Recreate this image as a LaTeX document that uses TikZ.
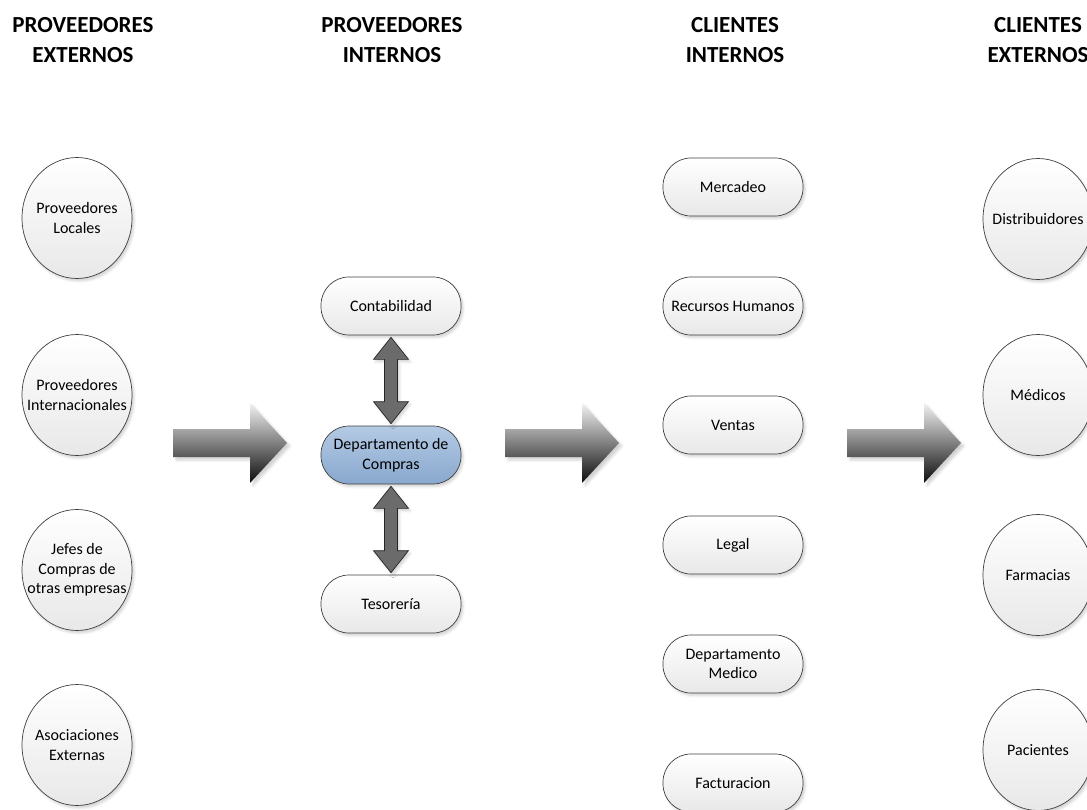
\documentclass[tikz,border=0pt]{standalone}
\usepackage{fontspec}
\setmainfont{Carlito}
\usetikzlibrary{shapes.geometric,shadows.blur,calc}

\definecolor{bluetop}{RGB}{180,202,228}
\definecolor{bluebot}{RGB}{136,168,206}

\begin{document}
\begin{tikzpicture}[x=1pt,y=-1pt,
  head/.style={font=\fontsize{23}{30}\selectfont\bfseries, align=center, inner sep=0pt},
  lbl/.style={font=\fontsize{16}{19.5}\selectfont, align=center},
  soft/.style={blur shadow={shadow xshift=2pt,shadow yshift=-2.5pt,shadow blur radius=2.5pt,shadow opacity=18}},
  oval/.style={ellipse, draw=black!75, line width=0.7pt, minimum width=110pt, minimum height=121pt,
    inner xsep=-28pt, inner ysep=0pt, top color=white, bottom color=black!9, soft, lbl},
  pill/.style={rectangle, rounded corners=28pt, draw=black!75, line width=0.7pt, minimum width=140pt,
    minimum height=58pt, inner sep=0pt, top color=white, bottom color=black!9, soft, lbl},
  dept/.style={pill, top color=bluetop, bottom color=bluebot},
  dblarrow/.style={fill=black!58, draw=black!85, line width=0.7pt, line join=miter, soft},
  bigarrow/.pic={
    \shade[top color=black!5, bottom color=black!95,
      blur shadow={shadow xshift=3pt,shadow yshift=-3pt,shadow blur radius=2.5pt,shadow opacity=18}]
      (0,-14) -- (77,-14) -- (77,-40) -- (114,0) -- (77,40) -- (77,14) -- (0,14) -- cycle;
  }]
\useasboundingbox (0,0) rectangle (1087,810);

% column headings
\node[head] (h1) at (83,40)   {PROVEEDORES\\EXTERNOS};
\node[head] (h2) at (392,40)  {PROVEEDORES\\INTERNOS};
\node[head] (h3) at (735,40)  {CLIENTES\\INTERNOS};
\node[head] (h4) at (1038,40) {CLIENTES\\EXTERNOS};

% external suppliers
\node[oval] (pl) at (77,218) {Proveedores\\Locales};
\node[oval] (pi) at (77,395) {Proveedores\\Internacionales};
\node[oval] (jc) at (77,570) {Jefes de\\Compras de\\otras empresas};
\node[oval] (ae) at (77,745) {Asociaciones\\Externas};

% internal suppliers
\node[pill] (cont) at (391,306) {Contabilidad};
\node[dept] (comp) at (391,455) {Departamento de\\Compras};
\node[pill] (tes)  at (391,604) {Tesorería};

% internal clients
\node[pill] (mer) at (733,187) {Mercadeo};
\node[pill] (rh)  at (733,306) {Recursos Humanos};
\node[pill] (ven) at (733,425) {Ventas};
\node[pill] (leg) at (733,545) {Legal};
\node[pill] (dm)  at (733,664) {Departamento\\Medico};
\node[pill] (fac) at (733,783) {Facturacion};

% external clients
\node[oval] (dis) at (1038,219) {Distribuidores};
\node[oval] (med) at (1038,395) {Médicos};
\node[oval] (far) at (1038,575) {Farmacias};
\node[oval] (pac) at (1038,750) {Pacientes};

% two-headed arrows between purchasing and the other departments
\foreach \a/\b in {cont/comp, comp/tes}{
  \coordinate (t1) at ($(\a.south)+(0,2)$);
  \coordinate (t2) at ($(\b.north)+(0,-2)$);
  \path[dblarrow] (t1) -- ($(t1)+(17.5,22)$) -- ($(t1)+(6.5,22)$) -- ($(t2)+(6.5,-22)$)
    -- ($(t2)+(17.5,-22)$) -- (t2) -- ($(t2)+(-17.5,-22)$) -- ($(t2)+(-6.5,-22)$)
    -- ($(t1)+(-6.5,22)$) -- ($(t1)+(-17.5,22)$) -- cycle;
}

% flow arrows between the columns
\coordinate (f1) at (173,443);
\coordinate (f2) at (505,443);
\coordinate (f3) at (847,443);
\pic at (f1) {bigarrow};
\pic at (f2) {bigarrow};
\pic at (f3) {bigarrow};
\end{tikzpicture}
\end{document}
